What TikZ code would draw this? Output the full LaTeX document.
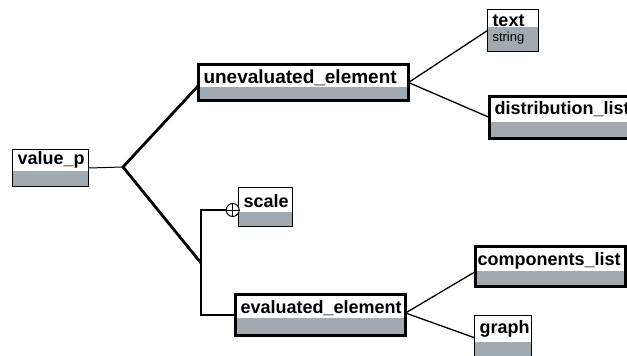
\documentclass[tikz,border=0pt]{standalone}
\usepackage{fontspec}
\setmainfont{Liberation Sans}
\usepackage{tikz}
\definecolor{BoxGray}{HTML}{A0AAB0}

\begin{document}
\begin{tikzpicture}[x=1pt, y=-1pt,
	attrs/.store in=\attrht, attrs=15pt,
	entity/.style={draw, fill=white, line width=1pt, outer sep=0pt, anchor=north west, inner xsep=5pt, inner ysep=0pt, align=left, font=\bfseries\fontsize{18}{21}\selectfont,
		path picture={\fill[BoxGray] (path picture bounding box.south west) rectangle ([yshift=\attrht]path picture bounding box.south east);}},
	keyentity/.style={entity, line width=3pt},
	link/.style={line width=1.3pt},
	trunk/.style={line width=2.8pt}]
	\useasboundingbox (0,0) rectangle (627,356);

	\node[entity, minimum width=76pt, text width=66pt, text height=14.5pt, text depth=22.5pt, attrs=15.5pt] (valuep) at (12.5,149.5) {value\_p};
	\node[keyentity, font=\bfseries\fontsize{19}{21}\selectfont, minimum width=210pt, text width=200pt, text height=18.5pt, text depth=17.5pt, attrs=13.5pt] (uneval) at (198.5,64.5) {unevaluated\_element};
	\node[entity, minimum width=51pt, text width=41pt, text height=16.5pt, text depth=25.5pt, attrs=24.5pt] (textattr) at (487.5,9.5) {text\\[-5pt]{\normalfont\fontsize{13}{14}\selectfont string}};
	\node[keyentity, minimum width=150pt, text width=140pt, text height=17.5pt, text depth=24.5pt, attrs=16.5pt] (distlist) at (489.5,96.5) {distribution\_list};
	\node[entity, minimum width=54pt, text width=44pt, text height=19.5pt, text depth=19.5pt, attrs=14.5pt] (scale) at (238.5,187.5) {scale};
	\node[keyentity, minimum width=170pt, text width=160pt, text height=18.5pt, text depth=22.5pt, attrs=17.5pt] (evalel) at (235.5,294.5) {evaluated\_element};
	\node[keyentity, inner xsep=2pt, minimum width=150pt, text width=146pt, text height=18.5pt, text depth=21.5pt, attrs=15.5pt] (complist) at (475.5,246.5) {components\_list};
	\node[entity, minimum width=57pt, text width=47pt, text height=17.5pt, text depth=27pt, attrs=18pt] (graph) at (474.5,315.5) {graph};

	\coordinate (fork) at (123,167);
	\coordinate (bend) at (201,263);
	\node[draw, circle, line width=1pt, fill=white, minimum size=13pt, inner sep=0pt] (orplus) at (232.7,210) {};

	\draw[line width=1pt] (valuep.east) -- (fork);
	\draw[trunk] ([yshift=-3pt]uneval.west) -- (fork) -- (bend);
	\draw[line width=1.5pt] (orplus.west) -| (bend |- evalel.west) -- (evalel.west);
	\draw[line width=1pt] (orplus.north) -- (orplus.south) (orplus.west) -- (orplus.east);

	\draw[link] (uneval.east) -- (textattr.west);
	\draw[link] (uneval.east) -- (distlist.west);
	\draw[link] ([yshift=2pt]evalel.east) -- ([yshift=-5pt]complist.west);
	\draw[link] ([yshift=2pt]evalel.east) -- (graph.west);
\end{tikzpicture}
\end{document}
